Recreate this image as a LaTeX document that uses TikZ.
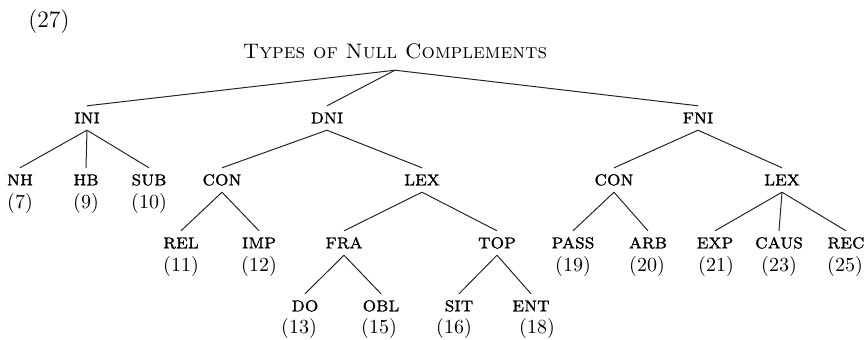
\documentclass[tikz,border=0pt]{standalone}
\usepackage{fontspec}
\newfontfamily\labfont{lmromancaps10-regular.otf}[FakeBold=0.9]
\begin{document}
\begin{tikzpicture}[x=0.5pt,y=-0.5pt,
  lab/.style={inner xsep=0pt,inner ysep=3.2pt,text height=5.4pt,text depth=0pt,font=\fontsize{10.6}{12}\labfont},
  num/.style={inner sep=0pt,font=\fontsize{10}{12}\selectfont},
  branch/.style={line width=0.5pt,draw=black!85}]
\useasboundingbox (0,0) rectangle (868,339);

% example number and heading
\node[num,font=\fontsize{11.8}{13}\selectfont] (ex) at (49,22) {(27)};
\node[inner xsep=0pt,inner ysep=5.5pt,text height=6.8pt,text depth=0pt,font=\fontsize{10.5}{12}\selectfont\scshape] (root) at (395,52) {Types of Null Complements};

% first level
\node[lab] (ini) at (87,118) {ini};
\node[lab] (dni) at (327,118) {dni};
\node[lab] (fni) at (698,118) {fni};

% second level
\node[lab] (nh)   at (20,180)  {nh};
\node[lab] (hb)   at (86,180)  {hb};
\node[lab] (sub)  at (149,180) {sub};
\node[lab] (dcon) at (222,180) {con};
\node[lab] (dlex) at (422,180) {lex};
\node[lab] (fcon) at (614,180) {con};
\node[lab] (flex) at (782,180) {lex};
\node[num] (n7)  at (20,203)  {(7)};
\node[num] (n9)  at (86,203)  {(9)};
\node[num] (n10) at (149,203) {(10)};

% third level
\node[lab] (rel)  at (181,243) {rel};
\node[lab] (imp)  at (259,243) {imp};
\node[lab] (fra)  at (344,243) {fra};
\node[lab] (top)  at (497,243) {top};
\node[lab] (pass) at (573,243) {pass};
\node[lab] (arb)  at (648,243) {arb};
\node[lab] (exp)  at (715,243) {exp};
\node[lab] (caus) at (779,243) {caus};
\node[lab] (rec)  at (846,243) {rec};
\node[num] (n11) at (181,266) {(11)};
\node[num] (n12) at (259,266) {(12)};
\node[num] (n19) at (573,266) {(19)};
\node[num] (n20) at (647,266) {(20)};
\node[num] (n21) at (716,266) {(21)};
\node[num] (n23) at (779,266) {(23)};
\node[num] (n25) at (845,266) {(25)};

% fourth level
\node[lab] (do)  at (305,306) {do};
\node[lab] (obl) at (381,306) {obl};
\node[lab] (sit) at (459,306) {sit};
\node[lab] (ent) at (531,306) {ent};
\node[num] (n13) at (299,328) {(13)};
\node[num] (n15) at (379,328) {(15)};
\node[num] (n16) at (454,328) {(16)};
\node[num] (n18) at (537,328) {(18)};

% branches
\foreach \p/\c in {root/ini,root/dni,root/fni,
                   ini/nh,ini/hb,ini/sub,
                   dni/dcon,dni/dlex,fni/fcon,fni/flex,
                   dcon/rel,dcon/imp,dlex/fra,dlex/top,
                   fcon/pass,fcon/arb,flex/exp,flex/caus,flex/rec,
                   fra/do,fra/obl,top/sit,top/ent}
  \draw[branch] (\p.south) -- (\c.north);
\end{tikzpicture}
\end{document}
